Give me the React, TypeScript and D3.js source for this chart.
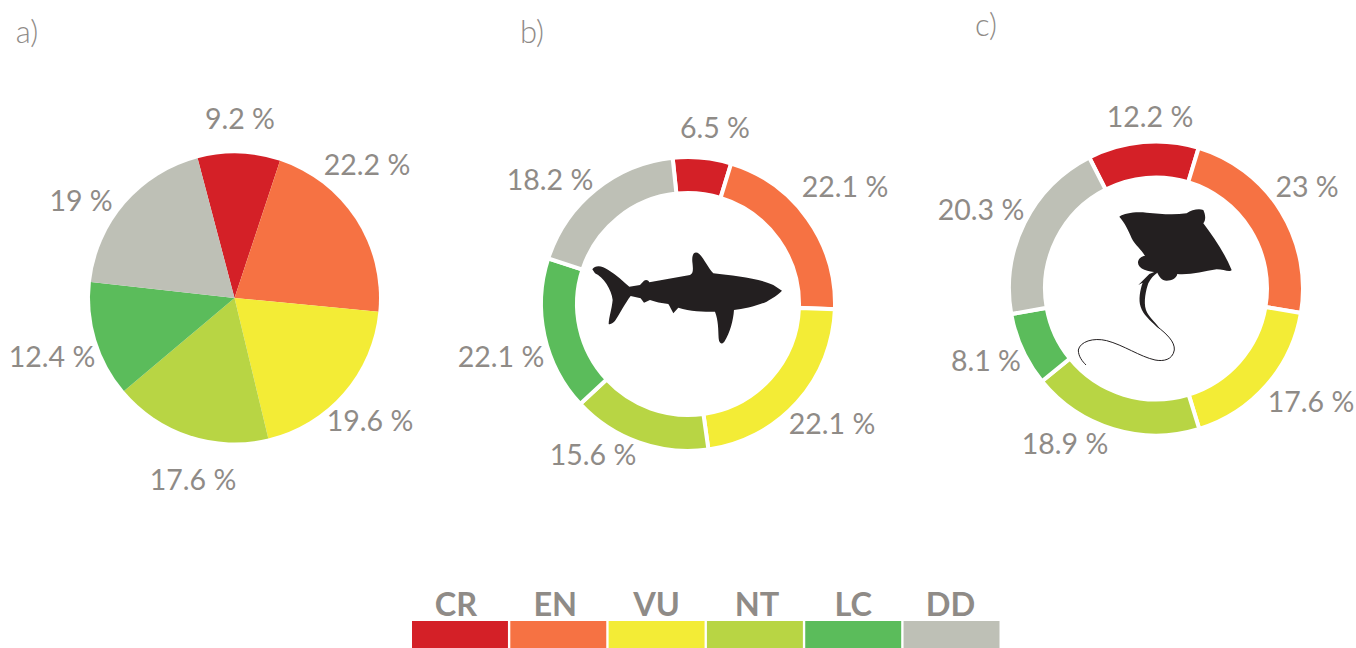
import * as d3 from "d3"

const categories = ["CR", "EN", "VU", "NT", "LC", "DD"]
const colors = ["#D42027", "#F67243", "#F3EC36", "#B8D544", "#5BBC5B", "#BEC0B6"]

const valuesA = [9.2, 22.2, 19.6, 17.6, 12.4, 19]
const valuesB = [6.5, 22.1, 22.1, 15.6, 22.1, 18.2]
const valuesC = [12.2, 23, 17.6, 18.9, 8.1, 20.3]

// the printed numbers don't match the drawn slices (b adds up to 106.7), so slices are read off the picture
const sweepA = [9.2, 21.4, 19.7, 17.6, 12.9, 19.1]
const sweepB = [6.4, 20.8, 22.2, 15.3, 16.9, 18.3]

// where each printed number sits: [center x, baseline y]
const labelsAtA = [[240, 129], [367, 175], [370, 431], [193, 490], [52, 367], [81, 211]]
const labelsAtB = [[715, 138], [845, 197], [832, 434], [593, 465], [501, 367], [550, 190]]
const labelsAtC = [[1150, 127], [1307, 197], [1311, 412], [1065, 454], [986, 371], [981, 220]]

// legend words are not quite centered over their swatches
const legendNudge = [-4, -3, 0, 2, 0, -1]

const textColor = "#8F8B87"
const font = "'Lato', 'Open Sans', sans-serif"

const shark =
  "M157,418 C165,405 185,405 205,420 C230,435 250,455 268,470 L300,465 L312,452 C318,448 325,450 328,457 " +
  "L450,435 C460,430 460,420 457,395 C455,370 465,362 478,372 C495,390 505,415 520,430 C580,437 660,445 700,465 " +
  "L726,482 C715,495 695,505 680,515 C650,528 610,537 582,540 C580,570 570,610 553,635 C545,645 537,640 536,625 " +
  "C535,600 535,570 525,545 C490,545 450,545 415,533 L400,550 C395,540 390,530 385,522 C365,520 345,515 330,510 " +
  "L312,518 L302,505 L272,498 C255,520 240,550 230,565 C222,580 210,585 206,582 C207,560 215,540 218,510 " +
  "C215,480 190,440 165,430 Z"

const rayBody =
  "M358,260 C375,250 400,245 440,248 C480,252 520,255 560,250 C575,240 595,235 610,240 C617,255 618,270 610,280 " +
  "C640,320 675,370 695,420 C690,428 670,418 650,418 C610,425 570,435 532,432 C530,445 515,452 500,452 " +
  "C485,452 478,440 472,428 C445,425 412,418 414,396 C416,385 425,378 435,378 C425,360 405,345 395,325 " +
  "C385,300 375,280 358,260 Z"
const rayTail =
  "M472,422 L448,432 L415,465 L428,458 C420,480 415,510 422,530 C430,555 450,570 470,590 L480,597 " +
  "C465,575 445,560 438,540 C430,515 438,480 445,460 C452,445 462,435 472,428 Z"
const rayWhip =
  "M472,590 C500,612 525,635 523,660 C518,690 490,695 465,690 C420,680 370,645 320,632 " +
  "C280,622 240,635 235,660 C235,680 248,695 258,705"

function Donut({ values, startDeg, cx, cy, outer, inner, gap }: any) {
  const pie = d3
    .pie<number>()
    .sort(null)
    .startAngle((startDeg * Math.PI) / 180)
    .endAngle(((startDeg + 360) * Math.PI) / 180)
  const arc = d3.arc<d3.PieArcDatum<number>>().innerRadius(inner).outerRadius(outer)

  return (
    <g transform={`translate(${cx},${cy})`}>
      {pie(values).map((d, i) => (
        <path
          key={categories[i]}
          d={arc(d) as string}
          fill={colors[i]}
          stroke={gap ? "#fff" : "none"}
          strokeWidth={gap}
        />
      ))}
    </g>
  )
}

function Labels({ values, at }: any) {
  return (
    <g fontFamily={font} fontWeight={400} fontSize={28.5} fill={textColor} textAnchor="middle">
      {values.map((v: number, i: number) => (
        <text key={categories[i]} x={at[i][0]} y={at[i][1]}>
          {v} %
        </text>
      ))}
    </g>
  )
}

export default function App() {
  const legendX = d3.scaleBand().domain(categories).range([412, 999.5]).paddingInner(0.024)

  return (
    <svg
      width={1356}
      height={648}
      style={{ position: "absolute", left: 0, top: 0, background: "#fff" }}
    >
      <g fontFamily={font} fontWeight={300} fontSize={31} fill={textColor} textAnchor="middle">
        <text x={27} y={43}>a)</text>
        <text x={532} y={43}>b)</text>
        <text x={986} y={36}>c)</text>
      </g>

      <Donut values={sweepA} startDeg={-14.8} cx={234.5} cy={298} outer={144.5} inner={0} gap={0} />
      <Donut values={sweepB} startDeg={-6} cx={688} cy={304} outer={147} inner={111} gap={4} />
      <Donut values={valuesC} startDeg={-27} cx={1156} cy={288.5} outer={147} inner={111} gap={4} />

      <Labels values={valuesA} at={labelsAtA} />
      <Labels values={valuesB} at={labelsAtB} />
      <Labels values={valuesC} at={labelsAtC} />

      <g transform="translate(540,130) scale(0.3333)" fill="#231F20">
        <path d={shark} />
      </g>
      <g transform="translate(1000,130) scale(0.3333)" fill="#231F20">
        <path d={rayBody} />
        <path d={rayTail} />
        <path d={rayWhip} fill="none" stroke="#231F20" strokeWidth={3} />
      </g>

      {categories.map((c, i) => (
        <g key={c}>
          <rect x={legendX(c)} y={621} width={legendX.bandwidth()} height={27} fill={colors[i]} />
          <text
            x={(legendX(c) as number) + legendX.bandwidth() / 2 + legendNudge[i]}
            y={616}
            textAnchor="middle"
            fontFamily={font}
            fontWeight={700}
            fontSize={32.5}
            fill={textColor}
          >
            {c}
          </text>
        </g>
      ))}
    </svg>
  )
}
